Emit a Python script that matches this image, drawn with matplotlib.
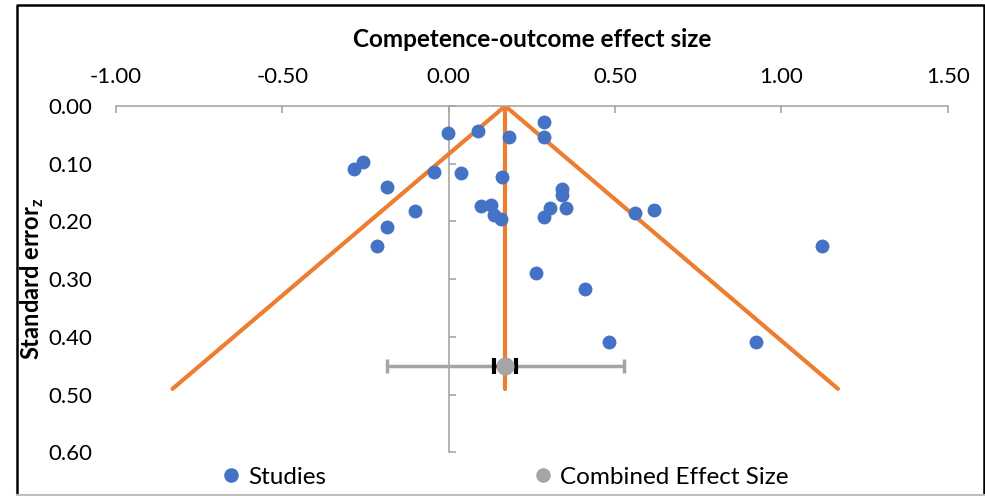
import matplotlib
matplotlib.use("Agg")
import matplotlib.pyplot as plt
from matplotlib.lines import Line2D
from matplotlib.ticker import FormatStrFormatter

plt.rcParams['font.family'] = ['Lato', 'DejaVu Sans']
plt.rcParams['mathtext.fontset'] = 'custom'
plt.rcParams['mathtext.rm'] = 'Lato'
plt.rcParams['mathtext.bf'] = 'Lato:bold'

# study effect sizes (x) and their standard errors (y)
study_es = [-0.002, 0.087, 0.180, -0.259, -0.285, -0.043, 0.038, 0.161, -0.185, -0.102,
            0.098, 0.128, 0.137, 0.157, -0.185, -0.214, 0.287, 0.287, 0.341, 0.341,
            0.352, 0.306, 0.287, 0.560, 0.616, 1.121, 0.263, 0.409, 0.483, 0.925]
study_se = [0.046, 0.043, 0.053, 0.097, 0.109, 0.114, 0.116, 0.123, 0.140, 0.182,
            0.174, 0.172, 0.189, 0.196, 0.209, 0.242, 0.028, 0.053, 0.143, 0.154,
            0.176, 0.176, 0.192, 0.186, 0.180, 0.243, 0.289, 0.317, 0.409, 0.409]

combined_es = 0.17
combined_se = 0.45
pred_low, pred_high = -0.186, 0.527
ci_low, ci_high = 0.135, 0.203

funnel_x = [-0.83, 0.17, 1.17]
funnel_y = [0.49, 0.0, 0.49]
mid_x = [0.17, 0.17]
mid_y = [0.0, 0.49]

x_ticks = [-1.0, -0.5, 0.0, 0.5, 1.0, 1.5]
y_ticks = [0.0, 0.1, 0.2, 0.3, 0.4, 0.5, 0.6]

BLUE = '#4472C4'
ORANGE = '#ED7D31'
GRAY = '#A5A5A5'
AXGRAY = '#A6A6A6'

fig = plt.figure(figsize=(9.85, 4.96), dpi=100)
ax = fig.add_axes([116 / 985, 1 - 452.3 / 496, 831.7 / 985, 346.3 / 496])

ax.plot(funnel_x, funnel_y, color=ORANGE, lw=3, zorder=2, solid_capstyle='round')
ax.plot(mid_x, mid_y, color=ORANGE, lw=3, zorder=2, solid_capstyle='round')

ax.scatter(study_es, study_se, s=100, color=BLUE, zorder=3, linewidths=0)

ax.errorbar([combined_es], [combined_se], xerr=[[combined_es - pred_low], [pred_high - combined_es]],
            fmt='none', ecolor=GRAY, elinewidth=2.5, capsize=5, capthick=2.5, zorder=4)
ax.errorbar([combined_es], [combined_se], xerr=[[combined_es - ci_low], [ci_high - combined_es]],
            fmt='none', ecolor='black', elinewidth=2.5, capsize=6, capthick=3, zorder=5)
ax.scatter([combined_es], [combined_se], s=170, color=GRAY, zorder=6, linewidths=0)

ax.set_xlim(-1.0, 1.5)
ax.set_ylim(0.6, 0.0)
ax.set_xticks(x_ticks)
ax.set_yticks(y_ticks)
ax.xaxis.set_major_formatter(FormatStrFormatter('%.2f'))
ax.yaxis.set_major_formatter(FormatStrFormatter('%.2f'))

for s in ['bottom', 'right', 'left']:
    ax.spines[s].set_visible(False)
ax.spines['top'].set_color(AXGRAY)
ax.spines['top'].set_linewidth(1.2)

ax.xaxis.tick_top()
ax.xaxis.set_label_position('top')
ax.tick_params(axis='x', direction='in', length=5, width=1.2, color=AXGRAY, pad=14, labelsize=16)
ax.tick_params(axis='y', length=0, pad=17, labelsize=16)

# vertical axis line at x = 0 with its own inward ticks
sec = ax.secondary_yaxis(0.4)
sec.set_yticks(y_ticks)
sec.tick_params(axis='y', direction='in', length=5, width=1.2, color=AXGRAY, labelleft=False, labelright=False)
sec.spines['left'].set_color(AXGRAY)
sec.spines['left'].set_linewidth(1.2)

ax.set_xlabel('Competence-outcome effect size', fontsize=17.5, fontweight='bold', labelpad=14)
ax.set_ylabel(r'Standard error$_{\mathbf{z}}$', fontsize=17, fontweight='bold')
ax.yaxis.set_label_coords(-0.084, 0.5)

handles = [Line2D([], [], ls='none', marker='o', ms=10.5, color=BLUE, mec='none'),
           Line2D([], [], ls='none', marker='o', ms=10.5, color=GRAY, mec='none')]
fig.legend(handles, ['Studies', 'Combined Effect Size'], loc='center', bbox_to_anchor=(506 / 985, 1 - 477 / 496),
           ncol=2, frameon=False, fontsize=17.5, handlelength=0.6, handletextpad=0.4, columnspacing=8.6)

# outer chart border
fig.add_artist(Line2D([17 / 985, 17 / 985, 984 / 985, 984 / 985], [1 - 495 / 496, 1 - 5 / 496, 1 - 5 / 496, 1 - 495 / 496],
                      transform=fig.transFigure, color='black', lw=1.8))
fig.add_artist(Line2D([17 / 985, 984 / 985], [1 - 495 / 496, 1 - 495 / 496], transform=fig.transFigure,
                      color='#BFBFBF', lw=1.5))

fig.savefig('out.png', dpi=100)
